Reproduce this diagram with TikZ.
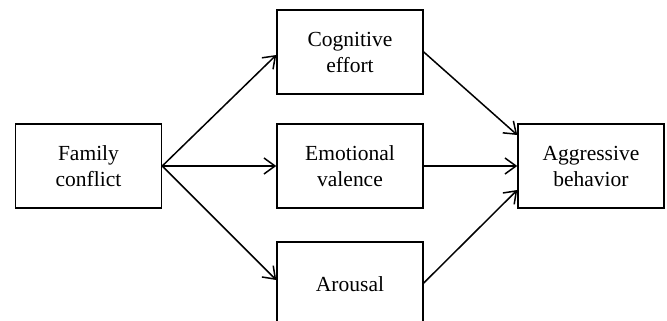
\documentclass[tikz,border=0pt]{standalone}
\usepackage{fontspec}
\setmainfont{Liberation Serif}
\usetikzlibrary{arrows.meta}
\begin{document}
\begin{tikzpicture}[x=1pt,y=-1pt,
  box/.style={draw,line width=1.5pt,minimum width=146pt,minimum height=84pt,align=center,
    font=\fontsize{21.5}{26}\selectfont,inner sep=0pt},
  conn/.style={line width=1.5pt,-{Straight Barb[length=11pt,width=16pt,line width=1.5pt]}}]
\useasboundingbox (0,0) rectangle (667,321);
\begin{scope}
\clip (0,0) rectangle (667,321);
\node[box] (fam) at (88.5,166) {Family\\conflict};
\node[box] (cog) at (350,52) {Cognitive\\effort};
\node[box] (emo) at (350,166) {Emotional\\valence};
\node[box] (aro) at (350,284) {Arousal};
\node[box] (agg) at (591,166) {Aggressive\\behavior};
\coordinate (cogin) at (cog.west |- 0,55);
\coordinate (aroin) at (aro.west |- 0,280);
\coordinate (cogout) at (cog.east |- 0,52);
\coordinate (aroout) at (aro.east |- 0,283);
\coordinate (agg1) at (agg.west |- 0,135);
\coordinate (agg3) at (agg.west |- 0,190);
\draw[conn] (fam.east) -- (cogin);
\draw[conn] (fam.east) -- (emo.west);
\draw[conn] (fam.east) -- (aroin);
\draw[conn] (cogout) -- (agg1);
\draw[conn] (emo.east) -- (agg.west);
\draw[conn] (aroout) -- (agg3);
\end{scope}
\end{tikzpicture}
\end{document}
